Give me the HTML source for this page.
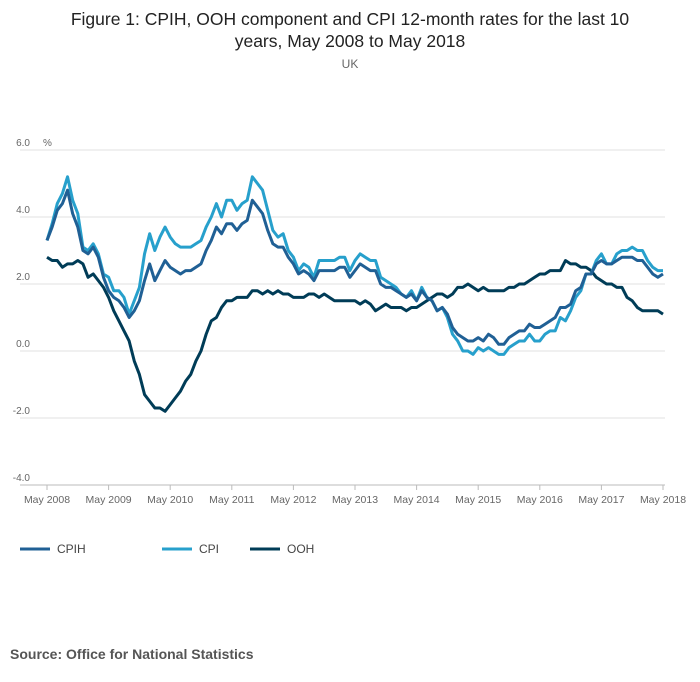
<!DOCTYPE html>
<html><head><meta charset="utf-8"><style>
body{margin:0;background:#fff;font-family:"Liberation Sans",sans-serif;}
#w{position:relative;width:700px;height:682px;overflow:hidden}
.t{position:absolute;left:0;width:700px;text-align:center;color:#222;font-size:17.5px;line-height:22px;top:8px}
.sub{position:absolute;left:0;width:700px;text-align:center;top:57px;font-size:12px;color:#666}
.src{position:absolute;left:10px;top:646px;font-weight:bold;font-size:14px;color:#555}
</style></head><body><div id="w">
<div class="t">Figure 1: CPIH, OOH component and CPI 12-month rates for the last 10<br>years, May 2008 to May 2018</div>
<div class="sub">UK</div>
<svg id="c" width="700" height="682" style="position:absolute;left:0;top:0"></svg>
<div class="src">Source: Office for National Statistics</div>
</div>
<script>
const yTicks=[6,4,2,0,-2,-4];
const xLabels=["May 2008","May 2009","May 2010","May 2011","May 2012","May 2013","May 2014","May 2015","May 2016","May 2017","May 2018"];
const cpih=[3.3,3.7,4.2,4.4,4.8,4.1,3.7,3.0, 2.9,3.1,2.8,2.2,1.8,1.6,1.5,1.3,1.0,1.2,1.5,2.1, 2.6,2.1,2.4,2.7,2.5,2.4,2.3,2.4,2.4,2.5,2.6,3.0, 3.3,3.7,3.5,3.8,3.8,3.6,3.8,3.9,4.5,4.3,4.1,3.6, 3.2,3.1,3.1,2.8,2.6,2.3,2.4,2.3,2.1,2.4,2.4,2.4, 2.4,2.5,2.5,2.2,2.4,2.6,2.5,2.4,2.4,2.0,1.9,1.9, 1.8,1.7,1.6,1.7,1.5,1.8,1.6,1.5,1.2,1.3,1.1,0.7, 0.5,0.4,0.3,0.3,0.4,0.3,0.5,0.4,0.2,0.2,0.4,0.5, 0.6,0.6,0.8,0.7,0.7,0.8,0.9,1.0,1.3,1.3,1.4,1.8, 1.9,2.3,2.3,2.6,2.7,2.6,2.6,2.7,2.8,2.8,2.8,2.7, 2.7,2.5,2.3,2.2,2.3];
const cpi=[3.3,3.8,4.4,4.7,5.2,4.5,4.1,3.1, 3.0,3.2,2.9,2.3,2.2,1.8,1.8,1.6,1.1,1.5,1.9,2.9, 3.5,3.0,3.4,3.7,3.4,3.2,3.1,3.1,3.1,3.2,3.3,3.7, 4.0,4.4,4.0,4.5,4.5,4.2,4.4,4.5,5.2,5.0,4.8,4.2, 3.6,3.4,3.5,3.0,2.8,2.4,2.6,2.5,2.2,2.7,2.7,2.7, 2.7,2.8,2.8,2.4,2.7,2.9,2.8,2.7,2.7,2.2,2.1,2.0, 1.9,1.7,1.6,1.8,1.5,1.9,1.6,1.5,1.2,1.3,1.0,0.5, 0.3,0.0,0.0,-0.1,0.1,0.0,0.1,0.0,-0.1,-0.1,0.1,0.2, 0.3,0.3,0.5,0.3,0.3,0.5,0.6,0.6,1.0,0.9,1.2,1.6, 1.8,2.3,2.3,2.7,2.9,2.6,2.6,2.9,3.0,3.0,3.1,3.0, 3.0,2.7,2.5,2.4,2.4];
const ooh=[2.8,2.7,2.7,2.5,2.6,2.6,2.7,2.6, 2.2,2.3,2.1,1.9,1.6,1.2,0.9,0.6,0.3,-0.3,-0.7,-1.3, -1.5,-1.7,-1.7,-1.8,-1.6,-1.4,-1.2,-0.9,-0.7,-0.3,0.0,0.5, 0.9,1.0,1.3,1.5,1.5,1.6,1.6,1.6,1.8,1.8,1.7,1.8, 1.7,1.8,1.7,1.7,1.6,1.6,1.6,1.7,1.7,1.6,1.7,1.6, 1.5,1.5,1.5,1.5,1.5,1.4,1.5,1.4,1.2,1.3,1.4,1.3, 1.3,1.3,1.2,1.3,1.3,1.4,1.5,1.6,1.7,1.7,1.6,1.7, 1.9,1.9,2.0,1.9,1.8,1.9,1.8,1.8,1.8,1.8,1.9,1.9, 2.0,2.0,2.1,2.2,2.3,2.3,2.4,2.4,2.4,2.7,2.6,2.6, 2.5,2.5,2.4,2.2,2.1,2.0,2.0,1.9,1.9,1.6,1.5,1.3, 1.2,1.2,1.2,1.2,1.1];
const NS="http://www.w3.org/2000/svg",svg=document.getElementById('c');
const x=i=>47+i*(616/120), y=v=>150+(6-v)*33.5;
function mk(t,a,txt){const e=document.createElementNS(NS,t);for(const k in a)e.setAttribute(k,a[k]);if(txt!=null)e.textContent=txt;svg.appendChild(e);return e;}
yTicks.forEach(v=>{
 const g=mk('line',{x1:20,x2:665,y1:y(v),y2:y(v),stroke:v===-4?'#bbb':'#e0e0e0','stroke-width':1});
 
 
 const t=mk('text',{x:30,y:y(v)-4,'text-anchor':'end','font-size':10,fill:'#666'},v.toFixed(1));
 
 
});
const pu=mk('text',{x:43,y:146,'font-size':10,fill:'#666'},'%');


xLabels.forEach((l,k)=>{
 const tk=mk('line',{x1:x(k*12),x2:x(k*12),y1:485,y2:490,stroke:'#bbb'});
 
 
 const t=mk('text',{x:x(k*12),y:503,'text-anchor':'middle','font-size':10.5,fill:'#666'},l);
 
 
});
[[ooh,'#003c57','ooh-line'],[cpi,'#27a0cc','cpi-line'],[cpih,'#206095','cpih-line']].forEach(([d,c,n])=>{
 const p=mk('polyline',{points:d.map((v,i)=>x(i)+','+y(v)).join(' '),fill:'none',stroke:c,'stroke-width':3,'stroke-linejoin':'round'});
 
 
});
[['CPIH','#206095',20],['CPI','#27a0cc',162],['OOH','#003c57',250]].forEach(([l,c,lx])=>{
 const ln=mk('line',{x1:lx,x2:lx+30,y1:549,y2:549,stroke:c,'stroke-width':3});
 
 
 const t=mk('text',{x:lx+37,y:553,'font-size':12,fill:'#444'},l);
 
 
});
</script></body></html>
